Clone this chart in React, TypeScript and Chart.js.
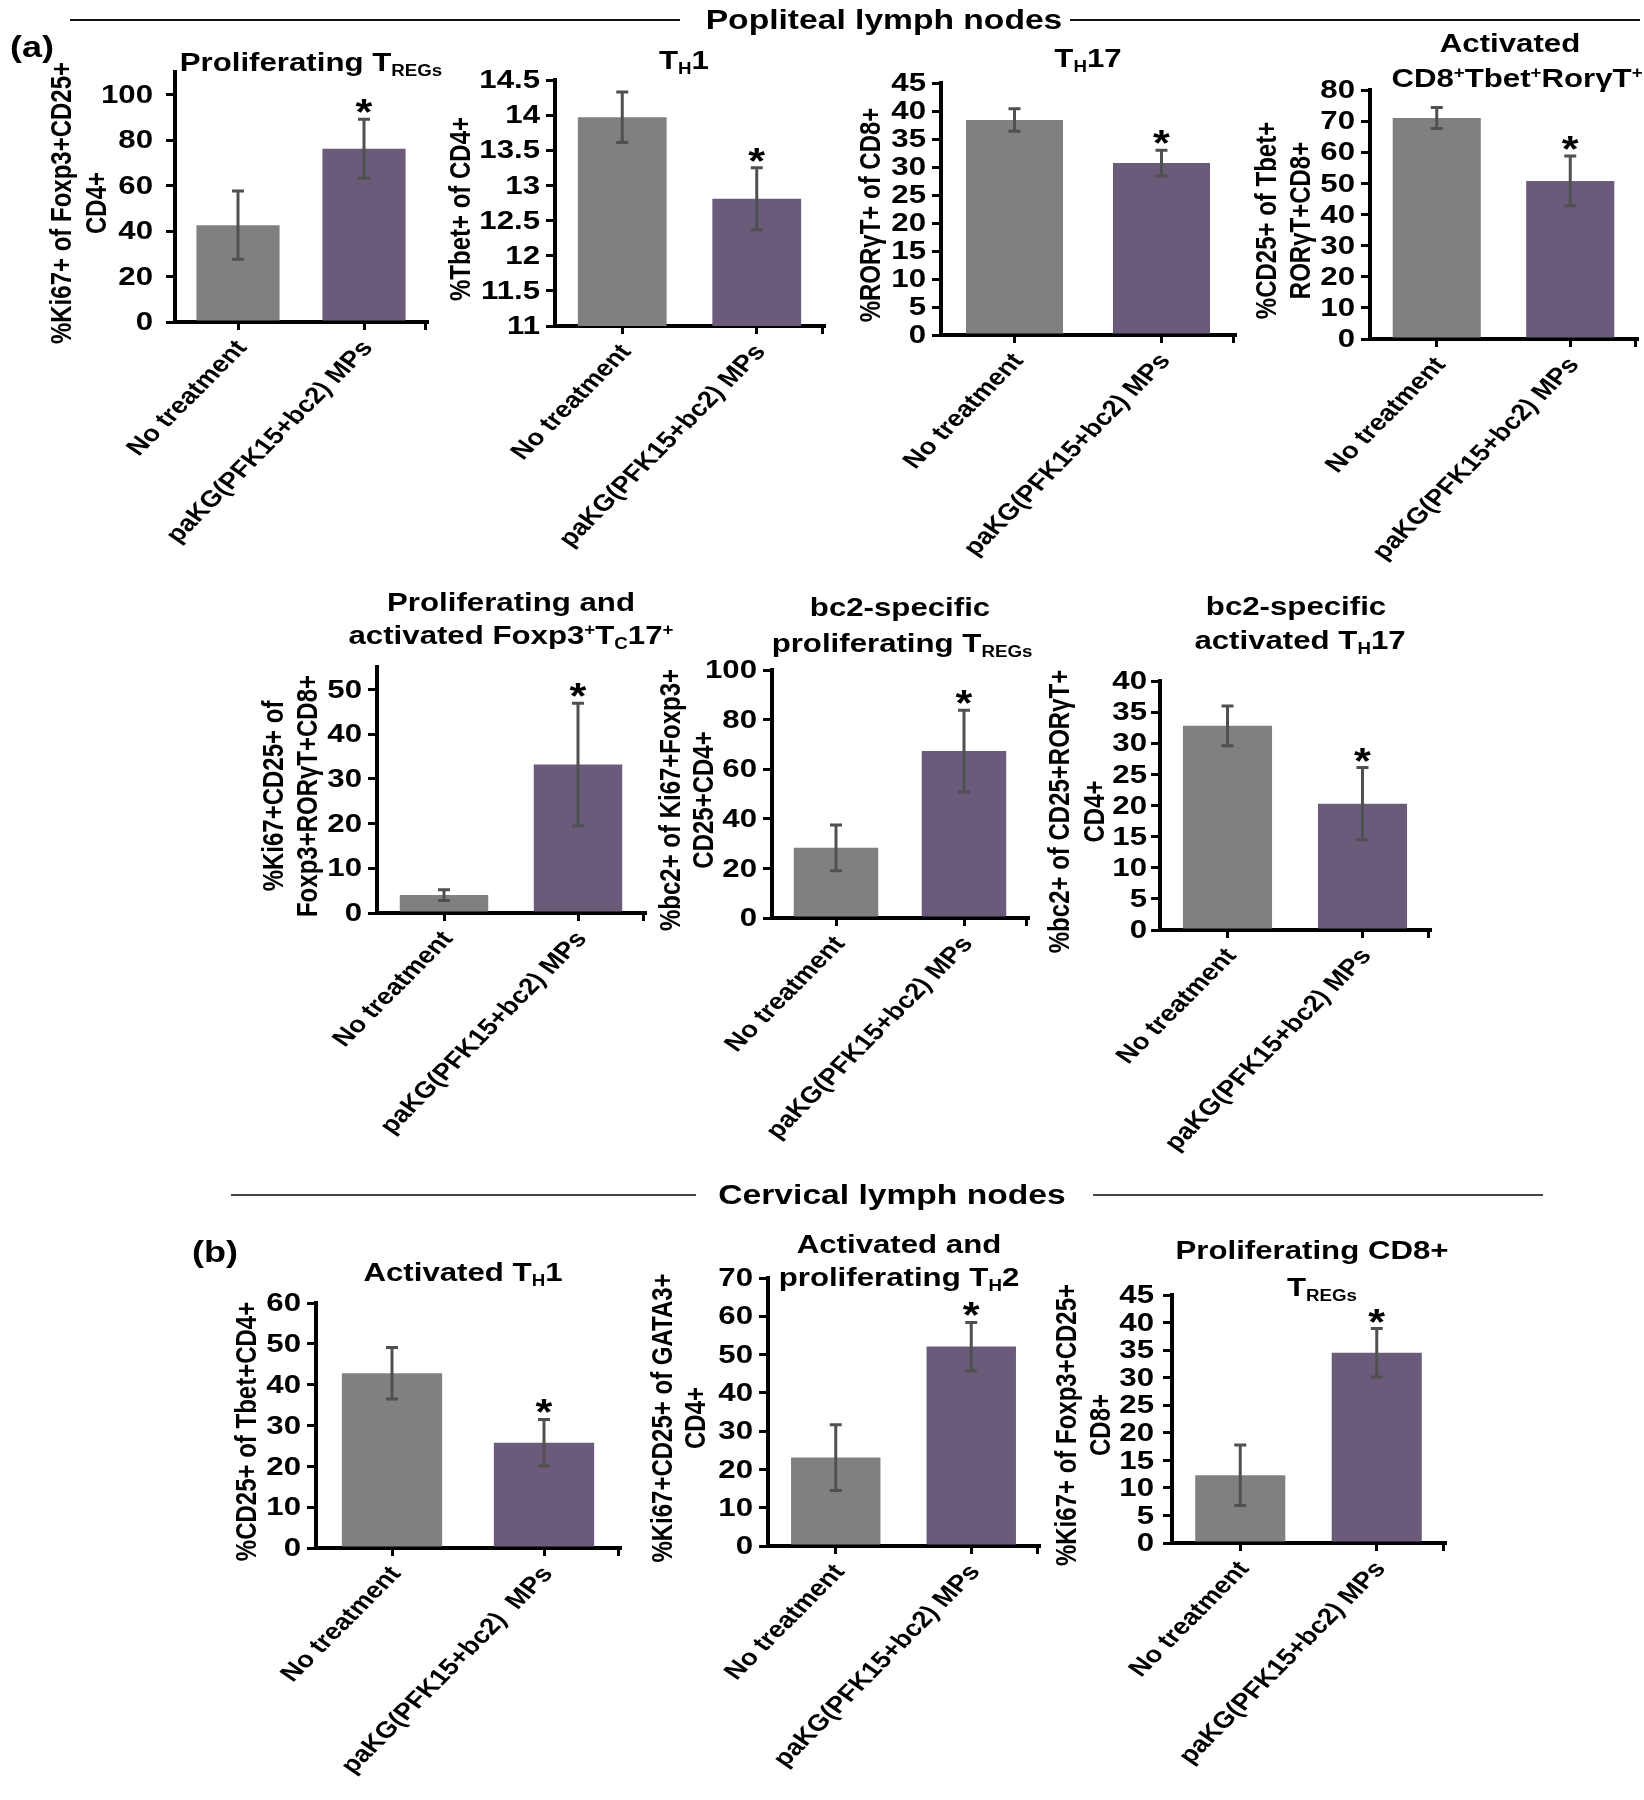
import React, { useEffect, useRef } from "react";
import { Chart, registerables } from "chart.js";

Chart.register(...registerables);

const FONT = "'Liberation Sans', Arial, Helvetica, sans-serif";
const SX = 1.2; // horizontal stretch of the original figure's lettering

// ---------------- data ----------------
const groupLabels = ["No treatment", "paKG(PFK15+bc2) MPs"];
const groupLabelsAlt = ["No treatment", "paKG(PFK15+bc2)  MPs"];
const barColors = ["#808080", "#6a5b7b"];
const significance = ["", "*"];

const tregMeans = [42.6, 76.2];
const tregErrors = [15, 13];
const tregTicks = [0, 20, 40, 60, 80, 100];

const th1Means = [13.97, 12.81];
const th1Errors = [0.36, 0.44];
const th1Ticks = [11, 11.5, 12, 12.5, 13, 13.5, 14, 14.5];

const th17Means = [38.4, 30.7];
const th17Errors = [2.0, 2.3];
const th17Ticks = [0, 5, 10, 15, 20, 25, 30, 35, 40, 45];

const cd8TbetMeans = [71.0, 50.8];
const cd8TbetErrors = [3.4, 8.0];
const cd8TbetTicks = [0, 10, 20, 30, 40, 50, 60, 70, 80];

const tc17Means = [4.0, 33.2];
const tc17Errors = [1.2, 13.7];
const tc17Ticks = [0, 10, 20, 30, 40, 50];

const bc2TregMeans = [28.3, 67.3];
const bc2TregErrors = [9.2, 16.5];
const bc2TregTicks = [0, 20, 40, 60, 80, 100];

const bc2Th17Means = [32.8, 20.3];
const bc2Th17Errors = [3.2, 5.8];
const bc2Th17Ticks = [0, 5, 10, 15, 20, 25, 30, 35, 40];

const actTh1Means = [42.8, 25.8];
const actTh1Errors = [6.3, 5.7];
const actTh1Ticks = [0, 10, 20, 30, 40, 50, 60];

const th2Means = [23.1, 52.1];
const th2Errors = [8.6, 6.3];
const th2Ticks = [0, 10, 20, 30, 40, 50, 60, 70];

const cd8TregMeans = [12.3, 34.5];
const cd8TregErrors = [5.5, 4.4];
const cd8TregTicks = [0, 5, 10, 15, 20, 25, 30, 35, 40, 45];

// ---------------- layout ----------------
type PanelSpec = {
  labels: string[];
  means: number[];
  errors: number[];
  ticks: number[];
  min: number;
  max: number;
  yTitle: string[];
  box: [number, number, number, number]; // left, right, top, bottom of plot area (page px)
  titleX: number; // centre of first y-title line (page px)
  lineH: number;
  tickGap: number;
};

const panels: PanelSpec[] = [
  { labels: groupLabels, means: tregMeans, errors: tregErrors, ticks: tregTicks, min: 0, max: 110,
    yTitle: ["%Ki67+ of Foxp3+CD25+", "CD4+"], box: [175, 427, 72, 322], titleX: 63, lineH: 35, tickGap: 22 },
  { labels: groupLabels, means: th1Means, errors: th1Errors, ticks: th1Ticks, min: 11, max: 14.5,
    yTitle: ["%Tbet+ of CD4+"], box: [555, 824, 80, 326], titleX: 462, lineH: 34, tickGap: 15 },
  { labels: groupLabels, means: th17Means, errors: th17Errors, ticks: th17Ticks, min: 0, max: 45,
    yTitle: ["%RORγT+ of CD8+"], box: [941, 1235, 83, 335], titleX: 872, lineH: 34, tickGap: 15 },
  { labels: groupLabels, means: cd8TbetMeans, errors: cd8TbetErrors, ticks: cd8TbetTicks, min: 0, max: 80,
    yTitle: ["%CD25+ of Tbet+", "RORγT+CD8+"], box: [1370, 1637, 90, 339], titleX: 1268, lineH: 34, tickGap: 15 },
  { labels: groupLabels, means: tc17Means, errors: tc17Errors, ticks: tc17Ticks, min: 0, max: 55,
    yTitle: ["%Ki67+CD25+ of", "Foxp3+RORγT+CD8+"], box: [377, 645, 667, 913], titleX: 275, lineH: 34, tickGap: 15 },
  { labels: groupLabels, means: bc2TregMeans, errors: bc2TregErrors, ticks: bc2TregTicks, min: 0, max: 100,
    yTitle: ["%bc2+ of Ki67+Foxp3+", "CD25+CD4+"], box: [772, 1028, 670, 918], titleX: 672, lineH: 33, tickGap: 15 },
  { labels: groupLabels, means: bc2Th17Means, errors: bc2Th17Errors, ticks: bc2Th17Ticks, min: 0, max: 40,
    yTitle: ["%bc2+ of CD25+RORγT+", "CD4+"], box: [1160, 1430, 681, 930], titleX: 1061, lineH: 35, tickGap: 13 },
  { labels: groupLabelsAlt, means: actTh1Means, errors: actTh1Errors, ticks: actTh1Ticks, min: 0, max: 60,
    yTitle: ["%CD25+ of Tbet+CD4+"], box: [316, 620, 1303, 1548], titleX: 248, lineH: 34, tickGap: 15 },
  { labels: groupLabels, means: th2Means, errors: th2Errors, ticks: th2Ticks, min: 0, max: 70,
    yTitle: ["%Ki67+CD25+ of GATA3+", "CD4+"], box: [768, 1039, 1278, 1546], titleX: 664, lineH: 33, tickGap: 15 },
  { labels: groupLabels, means: cd8TregMeans, errors: cd8TregErrors, ticks: cd8TregTicks, min: 0, max: 45,
    yTitle: ["%Ki67+ of Foxp3+CD25+", "CD8+"], box: [1172, 1445, 1295, 1543], titleX: 1068, lineH: 34, tickGap: 18 },
];

function BarPanel({ p }: { p: PanelSpec }) {
  const ref = useRef<HTMLCanvasElement>(null);
  const [L, R, T, B] = p.box;
  const padTop = Math.min(70, T - 2);
  const padRight = 14;
  const xH = 270;
  const left = Math.round(p.titleX - 26);
  const top = T - padTop;
  const width = R + padRight - left;
  const height = B - top + xH;
  const yW = L - left;

  useEffect(() => {
    if (!ref.current) return;
    const overlay = {
      id: "errorBarsAndText",
      afterDatasetsDraw(chart: any) {
        const ctx = chart.ctx;
        const meta = chart.getDatasetMeta(0);
        const ys = chart.scales.y;
        const vals = chart.data.datasets[0].data as number[];
        ctx.save();
        meta.data.forEach((bar: any, i: number) => {
          const v = vals[i];
          const e = p.errors[i];
          const yTop = ys.getPixelForValue(v + e);
          const yBot = ys.getPixelForValue(v - e);
          ctx.strokeStyle = "#505050";
          ctx.lineWidth = 3;
          ctx.beginPath();
          ctx.moveTo(bar.x, yTop);
          ctx.lineTo(bar.x, yBot);
          ctx.stroke();
          ctx.beginPath();
          ctx.moveTo(bar.x - 6, yTop);
          ctx.lineTo(bar.x + 6, yTop);
          ctx.moveTo(bar.x - 6, yBot);
          ctx.lineTo(bar.x + 6, yBot);
          ctx.stroke();
          if (significance[i]) {
            ctx.save();
            ctx.fillStyle = "#000";
            ctx.font = `bold 36px ${FONT}`;
            ctx.textAlign = "center";
            ctx.textBaseline = "alphabetic";
            ctx.translate(bar.x, yTop + 6);
            ctx.scale(SX, 1);
            ctx.fillText(significance[i], 0, 0);
            ctx.restore();
          }
        });
        ctx.restore();
      },
      afterDraw(chart: any) {
        const ctx = chart.ctx;
        const a = chart.chartArea;
        const ys = chart.scales.y;
        const xs = chart.scales.x;
        ctx.save();
        // tick at right end of category axis
        ctx.strokeStyle = "#000";
        ctx.lineWidth = 3;
        ctx.beginPath();
        ctx.moveTo(a.right - 1.5, a.bottom);
        ctx.lineTo(a.right - 1.5, a.bottom + 8);
        ctx.stroke();
        // value-axis tick labels
        ctx.fillStyle = "#000";
        ctx.font = `bold 26px ${FONT}`;
        ctx.textAlign = "right";
        ctx.textBaseline = "middle";
        ys.ticks.forEach((t: any) => {
          const y = ys.getPixelForValue(t.value);
          ctx.save();
          ctx.translate(a.left - p.tickGap, y + 1);
          ctx.scale(SX, 1);
          ctx.fillText(String(t.value), 0, 0);
          ctx.restore();
        });
        // category labels, rotated to 45 degrees on the page
        ctx.font = `bold 23px ${FONT}`;
        ctx.textAlign = "right";
        ctx.textBaseline = "middle";
        const th = Math.atan(SX);
        (chart.data.labels as string[]).forEach((lab, i) => {
          const x = xs.getPixelForTick(i);
          ctx.save();
          ctx.translate(x + 4, a.bottom + 22);
          ctx.scale(SX, 1);
          ctx.rotate(-th);
          ctx.fillText(lab, 0, 0);
          ctx.restore();
        });
        // value-axis title
        ctx.font = `bold 24px ${FONT}`;
        ctx.textAlign = "center";
        ctx.textBaseline = "middle";
        const cy = (a.top + a.bottom) / 2 + 6;
        p.yTitle.forEach((line, i) => {
          ctx.save();
          ctx.translate(p.titleX - left + i * p.lineH, cy);
          ctx.scale(SX, 1);
          ctx.rotate(-Math.PI / 2);
          ctx.fillText(line, 0, 0);
          ctx.restore();
        });
        ctx.restore();
      },
    };

    const chart = new Chart(ref.current, {
      type: "bar",
      data: {
        labels: p.labels,
        datasets: [
          {
            data: p.means,
            backgroundColor: barColors,
            borderWidth: 0,
            barPercentage: 0.66,
            categoryPercentage: 1,
          },
        ],
      },
      options: {
        animation: false,
        responsive: false,
        maintainAspectRatio: false,
        devicePixelRatio: 1,
        layout: { padding: { left: 0, top: padTop, right: padRight, bottom: 0 } },
        plugins: {
          legend: { display: false },
          tooltip: { enabled: false },
          title: { display: false },
        },
        scales: {
          x: {
            type: "category",
            offset: true,
            z: 1,
            grid: {
              display: true,
              offset: false,
              drawOnChartArea: false,
              drawTicks: true,
              tickLength: 8,
              color: "#000",
              lineWidth: 3,
            },
            border: { display: true, color: "#000", width: 4 },
            ticks: { display: false, autoSkip: false },
            afterFit: (s: any) => {
              s.height = xH;
            },
          },
          y: {
            min: p.min,
            max: p.max,
            z: 1,
            afterBuildTicks: (s: any) => {
              s.ticks = p.ticks.map((v) => ({ value: v }));
            },
            grid: {
              drawOnChartArea: false,
              drawTicks: true,
              tickLength: 9,
              color: "#000",
              lineWidth: 3,
            },
            border: { display: true, color: "#000", width: 4 },
            ticks: { display: false, autoSkip: false },
            title: { display: false },
            afterFit: (s: any) => {
              s.width = yW;
            },
          },
        },
      } as any,
      plugins: [overlay],
    });
    return () => chart.destroy();
  }, []);

  return (
    <canvas
      ref={ref}
      width={width}
      height={height}
      style={{ position: "absolute", left, top, width, height }}
    />
  );
}

const Sub = ({ children }: { children: React.ReactNode }) => (
  <span style={{ fontSize: "0.6em", position: "relative", top: "0.3em" }}>{children}</span>
);
const Sup = ({ children }: { children: React.ReactNode }) => (
  <span style={{ fontSize: "0.6em", position: "relative", top: "-0.55em" }}>{children}</span>
);

function Label({ x, y, size, children }: { x: number; y: number; size: number; children: React.ReactNode }) {
  return (
    <div
      style={{
        position: "absolute",
        left: x,
        top: y,
        transform: `translate(-50%, -50%) scaleX(${SX})`,
        whiteSpace: "nowrap",
        fontFamily: FONT,
        fontWeight: "bold",
        fontSize: size,
        lineHeight: 1,
        color: "#000",
      }}
    >
      {children}
    </div>
  );
}

function HLine({ x1, x2, y, color }: { x1: number; x2: number; y: number; color: string }) {
  return (
    <div style={{ position: "absolute", left: x1, top: y - 1, width: x2 - x1, height: 2, background: color }} />
  );
}

export default function App() {
  const TS = 26;
  return (
    <div
      style={{
        position: "absolute",
        left: 0,
        top: 0,
        width: 1644,
        height: 1800,
        background: "#fff",
        overflow: "hidden",
      }}
    >
      {panels.map((p, i) => (
        <BarPanel key={i} p={p} />
      ))}

      {/* section headers */}
      <HLine x1={70} x2={680} y={20} color="#111" />
      <HLine x1={1070} x2={1640} y={20} color="#111" />
      <Label x={884} y={20} size={28}>Popliteal lymph nodes</Label>
      <Label x={32} y={47} size={30}>(a)</Label>

      <HLine x1={231} x2={696} y={1195} color="#444" />
      <HLine x1={1093} x2={1543} y={1195} color="#444" />
      <Label x={892} y={1195} size={28}>Cervical lymph nodes</Label>
      <Label x={215} y={1252} size={30}>(b)</Label>

      {/* panel titles */}
      <Label x={311} y={62} size={TS}>Proliferating T<Sub>REGs</Sub></Label>
      <Label x={684} y={60} size={TS}>T<Sub>H</Sub>1</Label>
      <Label x={1088} y={58} size={TS}>T<Sub>H</Sub>17</Label>
      <Label x={1510} y={43} size={TS}>Activated</Label>
      <Label x={1517} y={78} size={TS}>CD8<Sup>+</Sup>Tbet<Sup>+</Sup>RorγT<Sup>+</Sup></Label>

      <Label x={511} y={602} size={TS}>Proliferating and</Label>
      <Label x={511} y={635} size={TS}>activated Foxp3<Sup>+</Sup>T<Sub>C</Sub>17<Sup>+</Sup></Label>
      <Label x={900} y={607} size={TS}>bc2-specific</Label>
      <Label x={902} y={643} size={TS}>proliferating T<Sub>REGs</Sub></Label>
      <Label x={1296} y={606} size={TS}>bc2-specific</Label>
      <Label x={1300} y={640} size={TS}>activated T<Sub>H</Sub>17</Label>

      <Label x={463} y={1272} size={TS}>Activated T<Sub>H</Sub>1</Label>
      <Label x={899} y={1244} size={TS}>Activated and</Label>
      <Label x={899} y={1277} size={TS}>proliferating T<Sub>H</Sub>2</Label>
      <Label x={1312} y={1250} size={TS}>Proliferating CD8+</Label>
      <Label x={1322} y={1287} size={TS}>T<Sub>REGs</Sub></Label>
    </div>
  );
}
